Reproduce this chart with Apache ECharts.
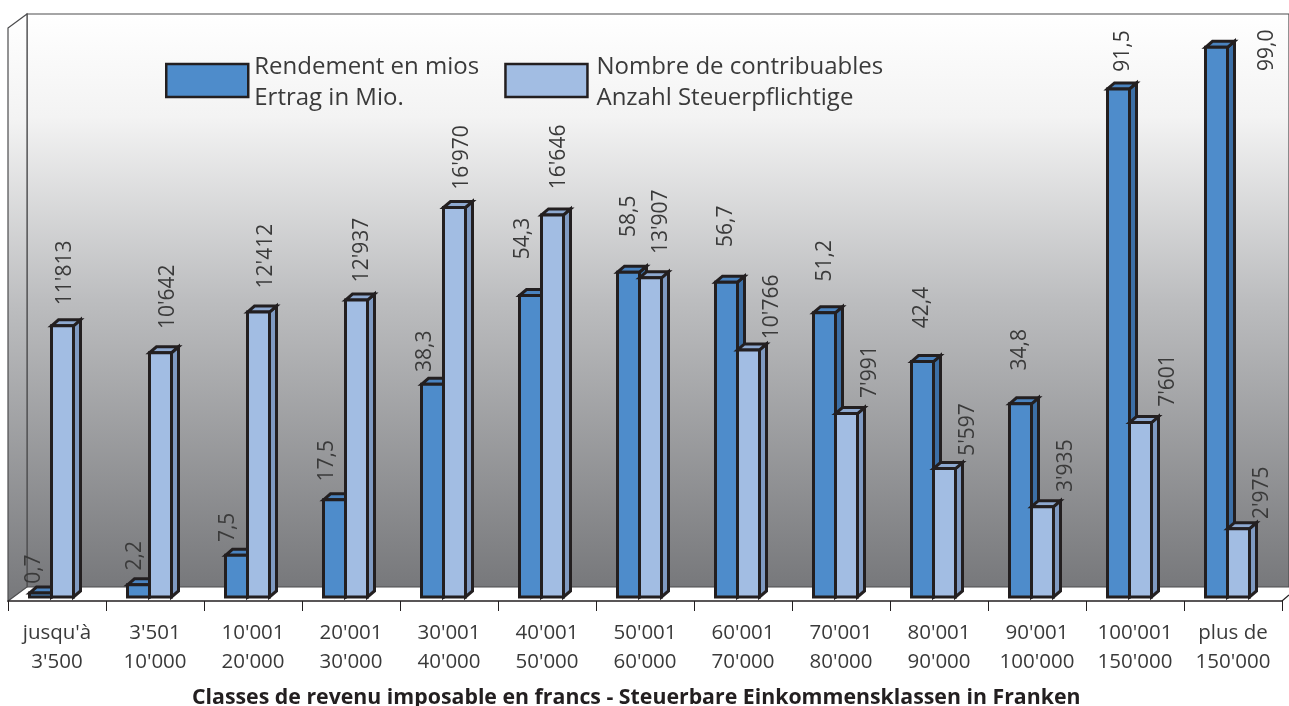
<!DOCTYPE html>
<html><head><meta charset="utf-8">
<style>html,body{margin:0;padding:0;background:#fff}#c{width:1289px;height:706px}</style>
<script src="https://cdn.jsdelivr.net/npm/echarts@6/dist/echarts.min.js"></script>
</head><body><div id="c"></div>
<script>
const categories = ["jusqu'à\n3'500","3'501\n10'000","10'001\n20'000","20'001\n30'000","30'001\n40'000","40'001\n50'000","50'001\n60'000","60'001\n70'000","70'001\n80'000","80'001\n90'000","90'001\n100'000","100'001\n150'000","plus de\n150'000"];
const rendement = [0.7,2.2,7.5,17.5,38.3,54.3,58.5,56.7,51.2,42.4,34.8,91.5,99.0];
const contribuables = [11813,10642,12412,12937,16970,16646,13907,10766,7991,5597,3935,7601,2975];
const rendementLabels = ["0,7","2,2","7,5","17,5","38,3","54,3","58,5","56,7","51,2","42,4","34,8","91,5","99,0"];
const contribuablesLabels = ["11'813","10'642","12'412","12'937","16'970","16'646","13'907","10'766","7'991","5'597","3'935","7'601","2'975"];
const nameRendement = "Rendement en mios\nErtrag in Mio.";
const nameContribuables = "Nombre de contribuables\nAnzahl Steuerpflichtige";
const axisTitle = "Classes de revenu imposable en francs - Steuerbare Einkommensklassen in Franken";
// hand placement of the value labels relative to the bar top
const shiftR = [[-7,24],[-4,29],[-9,28],[-8,39],[-8,33],[-8,57],[0,56],[-1,56],[0,52],[-1,54],[-1,54],[4,38],[50,-3]];
const shiftC = [[2,53],[7,56],[7,56],[5,50],[7,50],[6,58],[10,56],[23,43],[23,42],[23,39],[23,41],[27,42],[23,36]];

const FONT = '"Open Sans","Noto Sans",sans-serif';
const TXT = '#3a3a3a', EDGE = '#231f20';
const W = 22, DX = 7, DY = 6, LW = 3;
const LEGEND_ICON = 'path://M0 0H82V33H0ZM0 38L0 38';

function bar3d(offset, cols, labels, shifts){
  return function(params, api){
    const i = api.value(0);
    const top = api.coord([i, api.value(1)]);
    const base = api.coord([i, 0]);
    const x0 = Math.round(top[0]) + offset, x1 = x0 + W, y0 = top[1], y1 = base[1];
    const line = {stroke: EDGE, lineWidth: LW, lineJoin: 'miter'};
    const s = shifts[i];
    return {type:'group', children:[
      {type:'polygon', shape:{points:[[x1,y0],[x1+DX,y0-DY],[x1+DX,y1-DY],[x1,y1]]}, style:Object.assign({fill:cols[1]},line)},
      {type:'polygon', shape:{points:[[x0,y0],[x0+DX,y0-DY],[x1+DX,y0-DY],[x1,y0]]}, style:Object.assign({fill:cols[2]},line)},
      {type:'rect', shape:{x:x0,y:y0,width:W,height:y1-y0}, style:Object.assign({fill:cols[0]},line)},
      {type:'text', x:x0+W/2+s[0]+0.5, y:y0-s[1], rotation:Math.PI/2, z2:10,
       style:{text:labels[i], x:0, y:0, align:'center', verticalAlign:'middle', fill:TXT, font:'21px '+FONT}}
    ]};
  };
}
const gradient = {type:'linear',x:0,y:0,x2:0,y2:1,colorStops:[{offset:0,color:'#ffffff'},{offset:0.18,color:'#f3f3f3'},{offset:0.5,color:'#bcbdbf'},{offset:1,color:'#77787b'}]};
const chart = echarts.init(document.getElementById('c'), null, {renderer:'canvas'});
const rows = a => a.map((v,i)=>[i,v]);
chart.setOption({
  animation:false,
  backgroundColor:'#ffffff',
  grid:{left:8,right:7,top:14,bottom:109,containLabel:false},
  title:{text:axisTitle,left:192,top:687,padding:0,textStyle:{fontFamily:FONT,fontSize:21.3,fontWeight:'bold',color:'#231f20'}},
  legend:{left:165,top:52,orient:'horizontal',itemWidth:82,itemHeight:38,itemGap:25,padding:0,
    textStyle:{fontFamily:FONT,fontSize:24,lineHeight:31,color:TXT},
    data:[
      {name:nameRendement,icon:LEGEND_ICON,textStyle:{padding:[0,0,0,1]},itemStyle:{color:'#4e8ccb',borderColor:EDGE,borderWidth:2.5}},
      {name:nameContribuables,icon:LEGEND_ICON,textStyle:{padding:[0,0,0,4]},itemStyle:{color:'#a2bde3',borderColor:EDGE,borderWidth:2.5}}
    ]},
  xAxis:{type:'category',data:categories,offset:4,
    axisLine:{show:true,onZero:false,lineStyle:{color:'#231f20',width:1.5}},
    axisTick:{show:true,length:10,alignWithLabel:false,lineStyle:{color:'#231f20',width:1}},
    axisLabel:{interval:0,margin:18,fontFamily:FONT,fontSize:20.5,lineHeight:29,color:TXT}},
  yAxis:[
    {type:'value',min:0,max:105,show:false,splitLine:{show:false}},
    {type:'value',min:0,max:25400,show:false,splitLine:{show:false}}
  ],
  graphic:[
    {type:'polygon',silent:true,shape:{points:[[27,14],[1289,14],[1289,587],[27,587]]},style:{fill:gradient,stroke:'#4d4d4f',lineWidth:1.2}},
    {type:'polygon',silent:true,shape:{points:[[8,28],[27,14],[27,587],[8,601]]},style:{fill:gradient,stroke:'#4d4d4f',lineWidth:1.2}},
    {type:'polyline',silent:true,shape:{points:[[1282,601],[1289,595]]},style:{stroke:'#231f20',lineWidth:1.2,fill:null}}
  ],
  series:[
    {name:nameRendement,type:'custom',xAxisIndex:0,yAxisIndex:0,clip:false,z:3,encode:{x:0,y:1},data:rows(rendement),
     itemStyle:{color:'#4e8ccb'},renderItem:bar3d(-27.5,['#4e8ccb','#3c6fa6','#4a83bf'],rendementLabels,shiftR)},
    {name:nameContribuables,type:'custom',xAxisIndex:0,yAxisIndex:1,clip:false,z:4,encode:{x:0,y:1},data:rows(contribuables),
     itemStyle:{color:'#a2bde3'},renderItem:bar3d(-5.5,['#a2bde3','#7f9ac2','#8ea9d0'],contribuablesLabels,shiftC)}
  ]
});
</script></body></html>
